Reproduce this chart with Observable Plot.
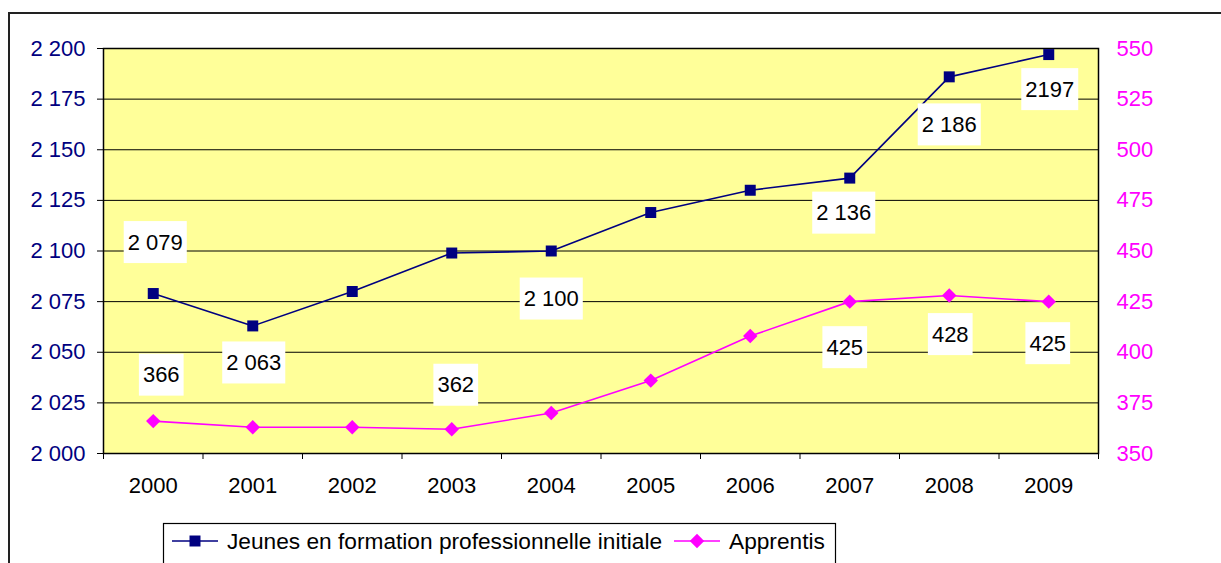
<!DOCTYPE html>
<html><head><meta charset="utf-8">
<script src="https://cdn.jsdelivr.net/npm/d3@7"></script>
<script src="https://cdn.jsdelivr.net/npm/@observablehq/plot@0.6"></script>
<style>
body{margin:0;background:#fff;}
#wrap{position:relative;width:1221px;height:563px;overflow:hidden;}
</style></head><body><div id="wrap"></div>
<script>
// ---- data ----
const years = [2000, 2001, 2002, 2003, 2004, 2005, 2006, 2007, 2008, 2009];
const jeunes = [2079, 2063, 2080, 2099, 2100, 2119, 2130, 2136, 2186, 2197];
const apprentis = [366, 363, 363, 362, 370, 386, 408, 425, 428, 425];
const leftTicks = [2000, 2025, 2050, 2075, 2100, 2125, 2150, 2175, 2200];
const rightTicks = [350, 375, 400, 425, 450, 475, 500, 525, 550];
const jeunesLabelYears = [2000, 2001, 2004, 2007, 2008, 2009];
const jeunesLabelTexts = ["2 079", "2 063", "2 100", "2 136", "2 186", "2197"];
const apprentisLabelYears = [2000, 2003, 2007, 2008, 2009];
const apprentisLabelTexts = ["366", "362", "425", "428", "425"];
const seriesNames = ["Jeunes en formation professionnelle initiale", "Apprentis"];

// ---- styling ----
const NAVY = "#000080", MAGENTA = "#FF00FF", FILL = "#FFFF99";
const LABEL_INK = "#010101";
const FONT = "'Liberation Sans', Arial, sans-serif";
const offset = rightTicks[0] - leftTicks[0]; // right axis -> left scale
const jeunesDy = [-51, 37, 48, 35, 48, 35];
const jeunesDx = [2, 1, 0, -6, 0, 1];
const apprentisDy = [-46, -44, 46, 39, 42];
const apprentisDx = [8, 4, -5, 1, -1];

const jRows = years.map((y, i) => ({year: y, v: jeunes[i]}));
const aRows = years.map((y, i) => ({year: y, v: apprentis[i] - offset}));
const jLab = jeunesLabelYears.map((y, i) => ({year: y, v: jeunes[years.indexOf(y)], t: jeunesLabelTexts[i], dx: jeunesDx[i], dy: jeunesDy[i]}));
const aLab = apprentisLabelYears.map((y, i) => ({year: y, v: apprentis[years.indexOf(y)] - offset, t: apprentisLabelTexts[i], dx: apprentisDx[i], dy: apprentisDy[i]}));
const rightRows = rightTicks.map(t => ({v: t - offset, t: String(t)}));

const fmt = d => String(d).replace(/^(\d)(\d{3})$/, "$1 $2");
const boundaries = d3.range(years[0] - 0.5, years[years.length - 1] + 1, 1);

const labelMarks = rows => rows.map(r => Plot.text([r], {
  x: "year", y: "v", text: "t", dx: r.dx, dy: r.dy, fill: LABEL_INK, fontSize: 22
}));

const chart = Plot.plot({
  width: 1221, height: 563,
  marginLeft: 103, marginRight: 123, marginTop: 48, marginBottom: 110,
  style: {fontFamily: FONT, fontSize: "22px", background: "transparent", overflow: "visible"},
  x: {domain: [years[0] - 0.5, years[years.length - 1] + 0.5], label: null},
  y: {domain: [leftTicks[0], leftTicks[leftTicks.length - 1]], label: null},
  marks: [
    Plot.frame({fill: FILL, stroke: null}),
    Plot.ruleY(leftTicks.slice(1), {stroke: "black", strokeWidth: 1}),
    Plot.frame({stroke: "black", strokeWidth: 1.5}),
    // left axis
    Plot.axisY({ticks: leftTicks, tickSize: 6, tickFormat: () => "", color: "black", label: null}),
    Plot.axisY({ticks: leftTicks, tickSize: 0, tickPadding: 18, tickFormat: fmt, color: NAVY, fontSize: 22, label: null}),
    // right axis labels (secondary scale mapped onto the primary one)
    Plot.text(rightRows, {y: "v", text: "t", frameAnchor: "right", dx: 18, textAnchor: "start", fill: MAGENTA, fontSize: 22}),
    // x axis
    Plot.axisX({ticks: boundaries, tickSize: 6, tickFormat: () => "", color: "black", label: null}),
    Plot.axisX({ticks: years, tickSize: 0, tickPadding: 24, tickFormat: d => String(d), color: "black", fontSize: 22, label: null}),
    // series
    Plot.line(jRows, {x: "year", y: "v", stroke: NAVY, strokeWidth: 1.6}),
    Plot.dot(jRows, {x: "year", y: "v", symbol: "square", r: 6.2, fill: NAVY, stroke: null}),
    Plot.line(aRows, {x: "year", y: "v", stroke: MAGENTA, strokeWidth: 1.6}),
    Plot.dot(aRows, {x: "year", y: "v", symbol: "diamond2", r: 6.5, fill: MAGENTA, stroke: null}),
    ...labelMarks(jLab),
    ...labelMarks(aLab)
  ]
});

document.getElementById("wrap").appendChild(chart);
const svg = d3.select(chart);

// white label boxes behind the data labels
svg.selectAll("text").filter(function() {
  const g = this.closest("g");
  return (this.getAttribute("fill") === LABEL_INK) || (g && g.getAttribute("fill") === LABEL_INK);
}).each(function() {
  const bb = this.getBBox();
  const cy = bb.y + bb.height / 2;
  const r = document.createElementNS("http://www.w3.org/2000/svg", "rect");
  r.setAttribute("x", bb.x - 4);
  r.setAttribute("width", bb.width + 8);
  r.setAttribute("y", cy - 21);
  r.setAttribute("height", 42);
  r.setAttribute("fill", "white");
  r.setAttribute("stroke", "none");
  const tr = this.getAttribute("transform");
  if (tr) r.setAttribute("transform", tr);
  this.parentNode.insertBefore(r, this);
});

// outer chart-area border
svg.append("path").attr("d", "M9,564 V13 H1222").attr("fill", "none").attr("stroke", "#222").attr("stroke-width", 2);

// legend
const lg = svg.append("g").attr("font-family", FONT).attr("font-size", 22.7).attr("text-anchor", "start");
lg.append("rect").attr("x", 163.5).attr("y", 523.5).attr("width", 672).attr("height", 60).attr("fill", "white").attr("stroke", "black").attr("stroke-width", 1.2);
const items = [
  {name: seriesNames[0], color: NAVY, sym: d3.symbolSquare, size: 6.2 * 6.2 * Math.PI, x: 172},
  {name: seriesNames[1], color: MAGENTA, sym: d3.symbolDiamond2, size: 6.5 * 6.5 * Math.PI, x: 674}
];
items.forEach(it => {
  const cy = 541;
  lg.append("line").attr("x1", it.x).attr("x2", it.x + 46).attr("y1", cy).attr("y2", cy).attr("stroke", it.color).attr("stroke-width", 1.6);
  lg.append("path").attr("d", d3.symbol(it.sym, it.size)()).attr("transform", `translate(${it.x + 23},${cy})`).attr("fill", it.color);
  lg.append("text").attr("x", it.x + 55).attr("y", cy).attr("dy", "0.35em").attr("text-anchor", "start").attr("fill", "black").text(it.name);
});
</script></body></html>
